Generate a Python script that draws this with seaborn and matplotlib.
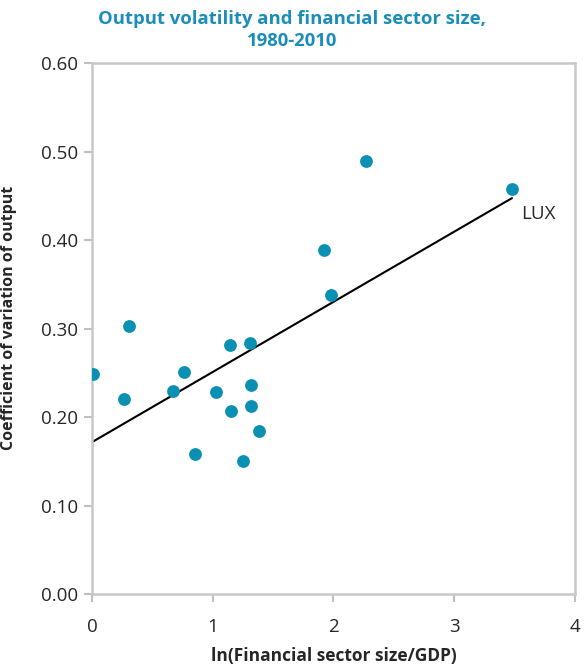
import numpy as np
import pandas as pd
import matplotlib
matplotlib.use("Agg")
import matplotlib.pyplot as plt
import seaborn as sns
from matplotlib.ticker import FormatStrFormatter

# values
fin_size = [0.006, 0.309, 0.265, 0.668, 0.759, 0.853, 1.027, 1.143, 1.154,
            1.251, 1.309, 1.317, 1.317, 1.383, 1.921, 1.977, 2.269, 3.478]
volatility = [0.249, 0.303, 0.220, 0.230, 0.251, 0.158, 0.228, 0.281, 0.207,
              0.150, 0.284, 0.236, 0.213, 0.184, 0.389, 0.338, 0.489, 0.458]
x_ticks = [0, 1, 2, 3, 4]
y_ticks = [0.0, 0.1, 0.2, 0.3, 0.4, 0.5, 0.6]

df = pd.DataFrame({"fin": fin_size, "vol": volatility})

sns.set_style("white")
plt.rcParams['font.family'] = ['Open Sans', 'DejaVu Sans']

fig = plt.figure(figsize=(5.84, 6.70), dpi=100)
ax = fig.add_axes([0.1575, 0.1134, 0.8271, 0.7921])

point_color = "#0A90B2"
sns.regplot(data=df, x="fin", y="vol", ax=ax, ci=None, truncate=True,
            scatter_kws={"s": 85, "color": point_color, "alpha": 1, "linewidths": 0, "zorder": 3},
            line_kws={"color": "black", "lw": 1.5, "zorder": 2})

ax.text(3.55, 0.43, "LUX", fontsize=13.5, ha="left", va="center")

ax.set_xlim(0, 4)
ax.set_ylim(0, 0.6)
ax.set_xticks(x_ticks)
ax.set_yticks(y_ticks)
ax.yaxis.set_major_formatter(FormatStrFormatter("%.2f"))
ax.tick_params(axis="both", which="major", labelsize=13.5, length=6, width=1.5,
               color="#C0C0C0", direction="out", left=True, bottom=True)
ax.tick_params(axis="x", pad=11)
ax.tick_params(axis="y", pad=4)

for side in ["left", "bottom", "top", "right"]:
    ax.spines[side].set_color("#C8C8C8")
    ax.spines[side].set_linewidth(1.8)

ax.set_xlabel("ln(Financial sector size/GDP)", fontsize=12.5, fontweight="bold", labelpad=8)
ax.set_ylabel("Coefficient of variation of output", fontsize=11.5, fontweight="bold")
ax.yaxis.set_label_coords(-0.156, 0.52)

fig.text(0.5, 0.955, "Output volatility and financial sector size,\n1980-2010",
         ha="center", va="center", fontsize=13.3, fontweight="bold", color="#1A8DB8",
         linespacing=1.25)

fig.savefig("out.png", dpi=100)
